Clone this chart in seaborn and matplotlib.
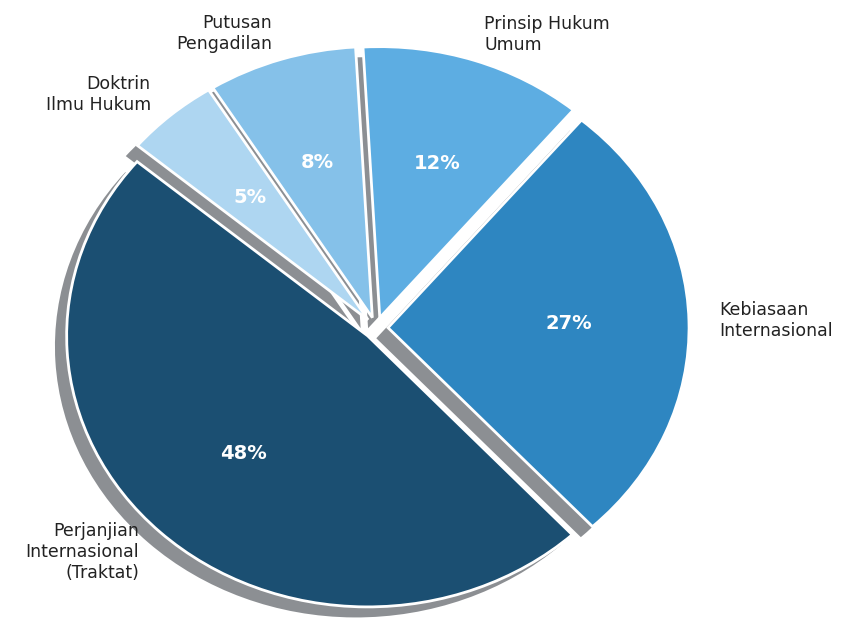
import numpy as np
import matplotlib
matplotlib.use('Agg')
import matplotlib.pyplot as plt
import seaborn as sns

sns.set_style('white')
plt.rcParams['font.family'] = ['DejaVu Sans']

# data sumber hukum internasional
labels = ['Perjanjian\nInternasional\n(Traktat)', 'Kebiasaan\nInternasional',
          'Prinsip Hukum\nUmum', 'Putusan\nPengadilan', 'Doktrin\nIlmu Hukum']
shares = [48, 27, 12, 8, 5]
colors = ['#1b4f72', '#2e86c1', '#5dade2', '#85c1e9', '#aed6f1']
explode = [0.04, 0.04, 0.04, 0.04, 0.04]

fig = plt.figure(figsize=(8.51, 6.21), dpi=100)
ax = fig.add_axes([0, 0, 1, 1])

wedges, texts, autotexts = ax.pie(
    shares,
    labels=labels,
    colors=colors,
    explode=explode,
    startangle=140,
    autopct='%1.0f%%',
    pctdistance=0.6,
    # bayangan abu-abu polos
    shadow={'ox': -0.028, 'oy': -0.028, 'facecolor': '#8c8f93',
            'edgecolor': 'none', 'linewidth': 0, 'alpha': 1},
    wedgeprops={'edgecolor': 'white', 'linewidth': 2},
    textprops={'fontsize': 12.5, 'color': '#222222'},
)
for t in autotexts:
    t.set_color('white')
    t.set_fontweight('bold')
    t.set_fontsize(14)

# gambar aslinya sedikit melebar ke samping
ax.set_aspect('auto')
ax.set_xlim(-1.249, 1.578)
ax.set_ylim(-1.081, 1.210)
ax.axis('off')

fig.savefig('out.png', dpi=100)
